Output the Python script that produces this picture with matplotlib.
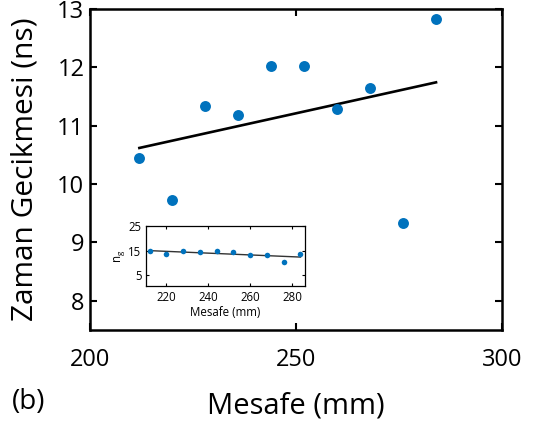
import numpy as np
import matplotlib
matplotlib.use("Agg")
import matplotlib.pyplot as plt

plt.rcParams['font.family'] = ['Open Sans', 'DejaVu Sans']

# distance (mm)
mesafe = [212, 220, 228, 236, 244, 252, 260, 268, 276, 284]
# time delay (ns)
gecikme = [10.45, 9.72, 11.33, 11.18, 12.02, 12.02, 11.28, 11.64, 9.34, 12.83]
# group index for inset
n_g = [15.0, 13.5, 15.1, 14.3, 14.9, 14.3, 13.2, 13.2, 10.3, 13.6]

blue = '#0072BD'

fig = plt.figure(figsize=(5.45, 4.28), dpi=100)
ax = fig.add_axes([0.165, 0.229, 0.756, 0.750])

x = np.array(mesafe, dtype=float)
ax.scatter(x, gecikme, s=62, color=blue, zorder=3, linewidths=0)
p = np.polyfit(x, gecikme, 1)
xl = np.array([x.min(), x.max()])
ax.plot(xl, np.polyval(p, xl), color='black', lw=1.9)

ax.set_xlim(200, 300)
ax.set_ylim(7.5, 13)
ax.set_xticks([200, 250, 300])
ax.set_yticks([8, 9, 10, 11, 12, 13])
ax.tick_params(direction='in', top=True, right=True, length=5, width=1.5,
               labelsize=17)
ax.tick_params(axis='x', pad=13)
ax.tick_params(axis='y', pad=4)
for s in ax.spines.values():
    s.set_linewidth(1.8)
ax.set_xlabel('Mesafe (mm)', fontsize=21, labelpad=14)
ax.set_ylabel('Zaman Gecikmesi (ns)', fontsize=21.5, labelpad=13)
fig.text(0.022, 0.045, '(b)', fontsize=20)

# inset
axi = fig.add_axes([0.267, 0.3325, 0.292, 0.1386])
axi.scatter(x, n_g, s=16, color=blue, zorder=3, linewidths=0)
pi = np.polyfit(x, n_g, 1)
axi.plot(xl, np.polyval(pi, xl), color='#333333', lw=1.0)
axi.set_xlim(210, 286)
axi.set_ylim(0.7, 25)
axi.set_xticks([220, 240, 260, 280])
axi.set_yticks([5, 15, 25])
axi.tick_params(direction='in', top=True, right=True, length=2.5, width=0.8,
                labelsize=8.3, pad=3)
axi.tick_params(axis='x', pad=4)
for s in axi.spines.values():
    s.set_linewidth(0.9)
axi.set_xlabel('Mesafe (mm)', fontsize=8.3, labelpad=1)
axi.set_ylabel('n$_\\mathregular{g}$', fontsize=8.3, labelpad=1)

fig.savefig('out.png', dpi=100)
